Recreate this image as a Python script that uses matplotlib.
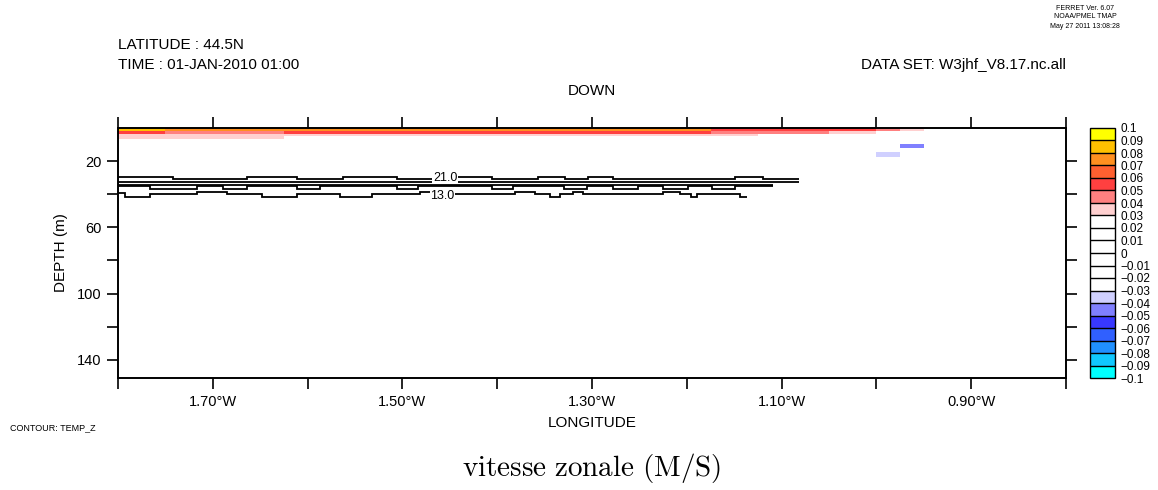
import numpy as np
import matplotlib
matplotlib.use('Agg')
import matplotlib.pyplot as plt
from matplotlib.colors import ListedColormap, BoundaryNorm

# ── Data ──────────────────────────────────────────────────────────────
# zonal velocity (m/s) on model grid: lon cells of 0.025 deg, depth cells (m)
lon_edges = np.round(np.arange(-1.80, -0.7999, 0.025), 3)
depth_edges = [0, 2, 3.5, 5, 6.5, 9.5, 12, 14.5, 17.5, 151]

u_r0 = [0.085] * 2 + [0.075] * 23 + [0.055] * 7 + [0.045, 0.035] + [0.0] * 6
u_r1 = [0.055] * 2 + [0.045] * 5 + [0.055] * 18 + [0.045] * 5 + [0.035] * 2 + [0.0] * 8
u_r2 = [0.035] * 7 + [0.035] * 18 + [0.035] * 2 + [0.0] * 13
u_r3 = [0.035] * 7 + [0.0] * 33
u_r4 = [0.0] * 40
u_r5 = [0.0] * 33 + [-0.045] + [0.0] * 6
u_r6 = [0.0] * 40
u_r7 = [0.0] * 32 + [-0.035] + [0.0] * 7
u_r8 = [0.0] * 40

# colour levels and palette (FERRET default)
levels = [-0.1, -0.09, -0.08, -0.07, -0.06, -0.05, -0.04, -0.03, -0.02, -0.01, 0,
          0.01, 0.02, 0.03, 0.04, 0.05, 0.06, 0.07, 0.08, 0.09, 0.1]
level_labels = ['\u22120.1', '\u22120.09', '\u22120.08', '\u22120.07', '\u22120.06',
                '\u22120.05', '\u22120.04', '\u22120.03', '\u22120.02', '\u22120.01', '0',
                '0.01', '0.02', '0.03', '0.04', '0.05', '0.06', '0.07', '0.08', '0.09', '0.1']
palette = ['#00FFFF', '#10C8FF', '#2090FF', '#3060FF', '#3838FF', '#8080FF', '#D0D0FF',
           '#FFFFFF', '#FFFFFF', '#FFFFFF', '#FFFFFF', '#FFFFFF', '#FFFFFF',
           '#FFD0D0', '#FF8080', '#FF4040', '#FF6030', '#FF9020', '#FFC000', '#FFFF00']

# TEMP_Z contour lines: step edges (lon) and depth (m) of each segment
lineA_lon = [-1.800, -1.742, -1.664, -1.611, -1.563, -1.506, -1.456, -1.405,
             -1.357, -1.328, -1.304, -1.278, -1.149, -1.120, -1.082]
lineA_dep = [29.4, 30.8, 29.4, 30.8, 29.4, 30.8, 29.4, 30.8, 29.4, 30.8, 29.4, 30.8, 29.4, 30.8]
lineB_lon = [-1.800, -1.082]
lineB_dep = [32.9]
lineC_lon = [-1.800, -1.109]
lineC_dep = [34.2]
lineD_lon = [-1.800, -1.766, -1.717, -1.689, -1.664, -1.611, -1.587, -1.506, -1.484, -1.405,
             -1.383, -1.330, -1.305, -1.278, -1.252, -1.225, -1.199, -1.173, -1.149, -1.109]
lineD_dep = [35.3, 36.8, 35.3, 36.8, 35.3, 36.8, 35.3, 36.8, 35.3, 36.8,
             35.3, 36.8, 35.3, 36.8, 35.3, 36.8, 35.3, 36.8, 35.3]
lineE_lon = [-1.800, -1.793, -1.766, -1.717, -1.685, -1.648, -1.611, -1.566, -1.532, -1.481,
             -1.459, -1.381, -1.360, -1.344, -1.334, -1.320, -1.310, -1.225, -1.207, -1.196,
             -1.189, -1.144, -1.136]
lineE_dep = [39.4, 41.4, 40.0, 38.8, 40.0, 41.4, 40.0, 41.4, 40.0, 38.8, 40.0,
             38.8, 40.0, 41.4, 40.0, 38.8, 40.0, 38.8, 40.0, 41.4, 40.0, 41.4]

x_ticks = [-1.7, -1.5, -1.3, -1.1, -0.9]
x_labels = ['1.70\u00b0W', '1.50\u00b0W', '1.30\u00b0W', '1.10\u00b0W', '0.90\u00b0W']
y_ticks = [20, 60, 100, 140]

# ── Figure ────────────────────────────────────────────────────────────
W, H = 1158, 490
fig = plt.figure(figsize=(W / 100, H / 100), dpi=100)
fig.patch.set_facecolor('white')
plt.rcParams['font.family'] = ['Liberation Sans', 'DejaVu Sans']

def px(x, y):
    return x / W, 1 - y / H

ax = fig.add_axes([118 / W, 1 - 378 / H, (1066 - 118) / W, (378 - 128) / H])
cax = fig.add_axes([1090 / W, 1 - 378 / H, 25 / W, (378 - 128) / H])

cmap = ListedColormap(palette)
norm = BoundaryNorm(levels, cmap.N)
u = np.array([u_r0, u_r1, u_r2, u_r3, u_r4, u_r5, u_r6, u_r7, u_r8])
mesh = ax.pcolormesh(lon_edges, depth_edges, u, cmap=cmap, norm=norm,
                     shading='flat', edgecolors='none', zorder=1)

for lons, deps in [(lineA_lon, lineA_dep), (lineB_lon, lineB_dep), (lineC_lon, lineC_dep),
                   (lineD_lon, lineD_dep), (lineE_lon, lineE_dep)]:
    ax.stairs(deps, lons, baseline=None, color='black', linewidth=1.3, zorder=3)

ax.text(-1.455, 30.0, '21.0', fontsize=9, ha='center', va='center', zorder=4,
        bbox=dict(facecolor='white', edgecolor='none', pad=0.3))
ax.text(-1.458, 40.8, '13.0', fontsize=9, ha='center', va='center', zorder=4,
        bbox=dict(facecolor='white', edgecolor='none', pad=0.3))

ax.set_xlim(-1.80, -0.80)
ax.set_ylim(151, 0)
ax.set_xticks(x_ticks)
ax.set_xticklabels(x_labels)
ax.set_xticks([-1.8, -1.6, -1.4, -1.2, -1.0, -0.8], minor=True)
ax.set_yticks(y_ticks)
ax.set_yticks([40, 80, 120], minor=True)
ax.tick_params(which='both', direction='out', length=8, width=1.2, color='black',
               top=True, right=True, labelsize=10.5, pad=4)
for s in ax.spines.values():
    s.set_linewidth(1.4)

ax.set_xlabel('LONGITUDE', fontsize=11, labelpad=5)
ax.set_ylabel('DEPTH (m)', fontsize=11, labelpad=6)

cb = fig.colorbar(mesh, cax=cax, ticks=levels, drawedges=True)
cb.ax.set_yticklabels(level_labels)
cb.ax.tick_params(length=0, labelsize=8.5, pad=4)
cb.outline.set_linewidth(1.0)
cb.dividers.set_linewidth(1.0)

# ── Annotation text ───────────────────────────────────────────────────
fig.text(*px(118, 45), 'LATITUDE : 44.5N', fontsize=11, va='center')
fig.text(*px(118, 65), 'TIME : 01-JAN-2010 01:00', fontsize=11, va='center')
fig.text(*px(1066, 65), 'DATA SET: W3jhf_V8.17.nc.all', fontsize=11, va='center', ha='right')
fig.text(*px(592, 91), 'DOWN', fontsize=11, va='center', ha='center')
fig.text(*px(1085, 8), 'FERRET Ver. 6.07', fontsize=5, va='center', ha='center')
fig.text(*px(1085, 16), 'NOAA/PMEL TMAP', fontsize=5, va='center', ha='center')
fig.text(*px(1085, 27), 'May 27 2011 13:08:28', fontsize=5, va='center', ha='center')
fig.text(*px(10, 428), 'CONTOUR: TEMP_Z', fontsize=6.5, va='center')

plt.rcParams['mathtext.fontset'] = 'cm'
fig.text(*px(592, 468), r'$\mathrm{vitesse\ zonale\ (M/S)}$', fontsize=21,
         va='center', ha='center')

fig.savefig('out.png', dpi=100, facecolor='white')
